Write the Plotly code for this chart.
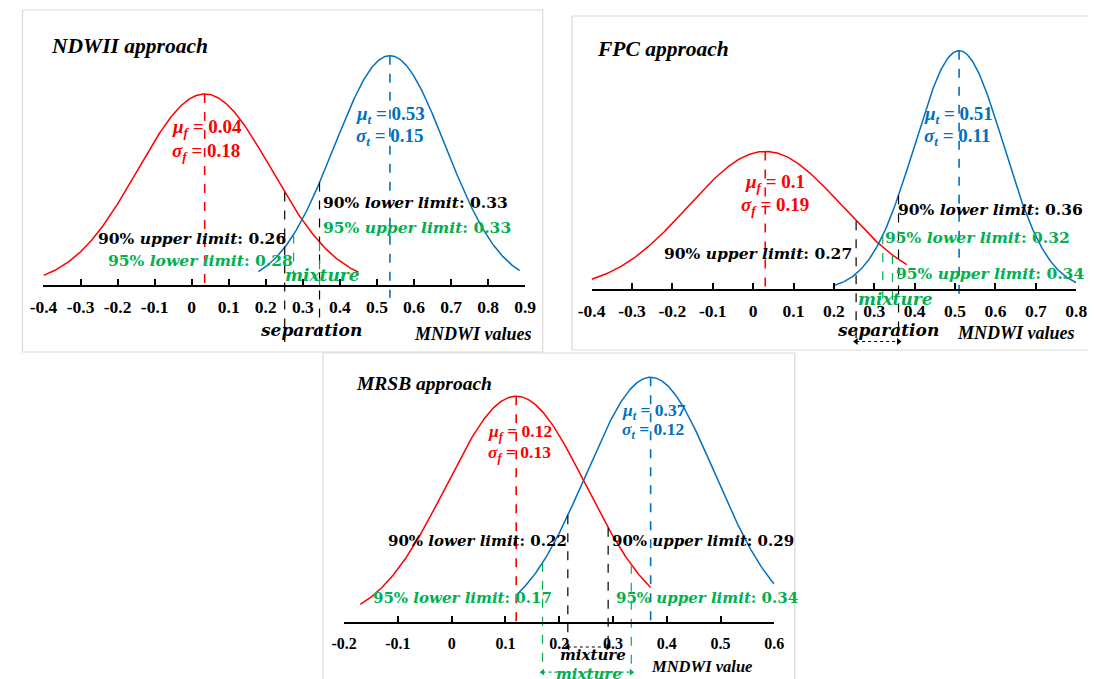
import numpy as np
import plotly.graph_objects as go

# page body has an 8px margin: figure is placed at (8, 8)
OFF = 8
W, H = 1096 - OFF, 679 - OFF

# ---------------- data ----------------
titles = ["NDWII approach", "FPC approach", "MRSB approach"]
axis_titles = ["MNDWI values", "MNDWI values", "MNDWI value"]
x_ranges = [(-0.4, 0.9), (-0.4, 0.8), (-0.2, 0.6)]
tick_vals = [
    [-0.4, -0.3, -0.2, -0.1, 0, 0.1, 0.2, 0.3, 0.4, 0.5, 0.6, 0.7, 0.8, 0.9],
    [-0.4, -0.3, -0.2, -0.1, 0, 0.1, 0.2, 0.3, 0.4, 0.5, 0.6, 0.7, 0.8],
    [-0.2, -0.1, 0, 0.1, 0.2, 0.3, 0.4, 0.5, 0.6],
]
tick_text = [
    ["-0.4", "-0.3", "-0.2", "-0.1", "0", "0.1", "0.2", "0.3", "0.4", "0.5", "0.6", "0.7", "0.8", "0.9"],
    ["-0.4", "-0.3", "-0.2", "-0.1", "0", "0.1", "0.2", "0.3", "0.4", "0.5", "0.6", "0.7", "0.8"],
    ["-0.2", "-0.1", "0", "0.1", "0.2", "0.3", "0.4", "0.5", "0.6"],
]

# distributions as drawn (red = f, blue = t)
red_mean = [0.035, 0.03, 0.12]
red_sd = [0.18, 0.19, 0.13]
blue_mean = [0.535, 0.51, 0.37]
blue_sd = [0.15, 0.11, 0.12]
red_from = [-0.4, -0.4, -0.17]
red_to = [0.45, 0.38, 0.37]
blue_from = [0.18, 0.2, 0.12]
blue_to = [0.885, 0.8, 0.6]

mu_f_txt = ["0.04", "0.1", "0.12"]
sigma_f_txt = ["0.18", "0.19", "0.13"]
mu_t_txt = ["0.53", "0.51", "0.37"]
sigma_t_txt = ["0.15", "0.11", "0.12"]

# limit lines as drawn
black_lines = [[0.251, 0.345], [0.255, 0.36], [0.216, 0.291]]
black_on = [["red", "blue"], ["red", "blue"], ["blue", "red"]]
green_lines = [[0.275, 0.345], [0.321, 0.345], [0.169, 0.334]]
green_on = [["blue", "red"], ["blue", "red"], ["blue", "red"]]

limit_text = [
    [("90%", "upper limit", "0.26", "black"), ("95%", "lower limit", "0.28", "green"),
     ("90%", "lower limit", "0.33", "black"), ("95%", "upper limit", "0.33", "green")],
    [("90%", "upper limit", "0.27", "black"), ("90%", "lower limit", "0.36", "black"),
     ("95%", "lower limit", "0.32", "green"), ("95%", "upper limit", "0.34", "green")],
    [("90%", "lower limit", "0.22", "black"), ("90%", "upper limit", "0.29", "black"),
     ("95%", "lower limit", "0.17", "green"), ("95%", "upper limit", "0.34", "green")],
]

# ---------------- style / geometry ----------------
RED = "#FF0000"
BLUE = "#0070C0"
GREEN = "#00B050"
COL = {"black": "black", "green": GREEN, "red": RED, "blue": BLUE}

geom = [
    dict(x0=30, x1=523, axis_y=285.7, scale=86.5, top=10, bottom=352),
    dict(x0=591, x1=1087, axis_y=290, scale=66, top=16, bottom=350),
    dict(x0=337.7, x1=778, axis_y=623.3, scale=74, top=353, bottom=679),
]
black_bottom = [-0.65, -0.8, -0.33]
green_bottom = [0.0, -0.23, -0.68]
blue_mean_bottom = [-0.14, -0.1, 0.0]
tick_size = [17.5, 17.5, 16]

SERIF = "Liberation Serif"
MATH = "DejaVu Serif"


def px(x):
    return (x - OFF) / W


def py(y):
    return 1 - (y - OFF) / H


def pdf(x, m, s):
    return np.exp(-0.5 * ((x - m) / s) ** 2) / (s * np.sqrt(2 * np.pi))


fig = go.Figure()
layout = dict(width=W, height=H, margin=dict(l=0, r=0, t=0, b=0),
              paper_bgcolor="white", plot_bgcolor="rgba(0,0,0,0)",
              showlegend=False)
annotations = []
shapes = []


def ann(x, y, text, color="black", size=15, family=MATH, xanchor="left"):
    annotations.append(dict(x=px(x), y=py(y), xref="paper", yref="paper",
                            text=text, showarrow=False, xanchor=xanchor,
                            yanchor="middle", font=dict(family=family, size=size, color=color)))


for i in range(3):
    g = geom[i]
    sfx = "" if i == 0 else str(i + 1)
    xa, ya = "x" + sfx, "y" + sfx
    bot = min(g["bottom"], H + OFF)
    top = max(g["top"], OFF)
    layout["xaxis" + sfx] = dict(
        domain=[px(g["x0"]), px(g["x1"])], range=list(x_ranges[i]),
        anchor="free", position=py(g["axis_y"]),
        showline=True, linecolor="black", linewidth=2,
        ticks="inside", ticklen=6, tickwidth=1.5, tickcolor="black",
        tickvals=tick_vals[i], ticktext=tick_text[i],
        tickfont=dict(family=SERIF, size=tick_size[i], color="black", weight="bold"),
        ticklabelstandoff=5, showgrid=False, zeroline=False, fixedrange=True)
    layout["yaxis" + sfx] = dict(
        domain=[py(bot), py(top)],
        range=[-(bot - g["axis_y"]) / g["scale"], (g["axis_y"] - top) / g["scale"]],
        visible=False, anchor=xa, fixedrange=True)

    params = {"red": (red_mean[i], red_sd[i]), "blue": (blue_mean[i], blue_sd[i])}
    # curves
    xr = np.linspace(red_from[i], red_to[i], 300)
    fig.add_trace(go.Scatter(x=xr, y=pdf(xr, *params["red"]), mode="lines",
                             line=dict(color=RED, width=1.5), xaxis=xa, yaxis=ya))
    xb = np.linspace(blue_from[i], blue_to[i], 300)
    fig.add_trace(go.Scatter(x=xb, y=pdf(xb, *params["blue"]), mode="lines",
                             line=dict(color=BLUE, width=1.5), xaxis=xa, yaxis=ya))
    # mean lines
    rm, rs = params["red"]
    fig.add_trace(go.Scatter(x=[rm, rm], y=[pdf(rm, rm, rs), 0], mode="lines",
                             line=dict(color=RED, width=1.6, dash="dash"), xaxis=xa, yaxis=ya))
    bm, bs = params["blue"]
    fig.add_trace(go.Scatter(x=[bm, bm], y=[pdf(bm, bm, bs), blue_mean_bottom[i]], mode="lines",
                             line=dict(color=BLUE, width=1.6, dash="dash"), xaxis=xa, yaxis=ya))
    # limit lines
    for xv, on in zip(black_lines[i], black_on[i]):
        fig.add_trace(go.Scatter(x=[xv, xv], y=[pdf(xv, *params[on]), black_bottom[i]], mode="lines",
                                 line=dict(color="black", width=1.2, dash="dash"), xaxis=xa, yaxis=ya))
    for xv, on in zip(green_lines[i], green_on[i]):
        fig.add_trace(go.Scatter(x=[xv, xv], y=[pdf(xv, *params[on]), green_bottom[i]], mode="lines",
                                 line=dict(color=GREEN, width=1.2, dash="dash"), xaxis=xa, yaxis=ya))
    # double arrows
    arrows = []
    if i == 1:
        arrows.append((black_lines[i], black_bottom[i] + 0.02, "black"))
    if i == 2:
        arrows.append((black_lines[i], black_bottom[i] + 0.01, "black"))
        arrows.append((green_lines[i], green_bottom[i] + 0.02, GREEN))
    for xs, yv, c in arrows:
        fig.add_trace(go.Scatter(x=xs, y=[yv, yv], mode="lines+markers",
                                 line=dict(color=c, width=1.2, dash="dot"),
                                 marker=dict(symbol=["triangle-left", "triangle-right"], size=6, color=c),
                                 xaxis=xa, yaxis=ya))

    # panel box
    shapes.append(dict(type="rect", xref="paper", yref="paper",
                       x0=px([8.5, 571, 316][i]), x1=px([541, 1100, 799][i]),
                       y0=py([352, 350, 690][i]), y1=py([10, 16, 353][i]),
                       line=dict(color="#d9d9d9", width=1.2), layer="below"))


def limit(lbl, x, y, size, xanchor):
    pct, words, val, col = lbl
    ann(x, y, f"<b>{pct} <i>{words}</i>: {val}</b>", COL[col], size, MATH, xanchor)


def mu_sigma(x, y, sym, sub, val, col, size):
    ann(x, y, f"<b><i>{sym}<sub>{sub}</sub></i> = {val}</b>", col, size, SERIF, "left")


# ---------- panel 1 text ----------
ann(36, 46, "<b><i>" + titles[0] + "</i></b>", "black", 21.5, SERIF)
mu_sigma(159, 128, "μ", "f", mu_f_txt[0], RED, 19)
mu_sigma(159, 152, "σ", "f", sigma_f_txt[0], RED, 19)
mu_sigma(348, 115, "μ", "t", mu_t_txt[0], BLUE, 19)
mu_sigma(348, 137, "σ", "t", sigma_t_txt[0], BLUE, 19)
limit(limit_text[0][0], 280, 239, 15.5, "right")
limit(limit_text[0][1], 287, 260, 15.5, "right")
limit(limit_text[0][2], 314, 202, 15.5, "left")
limit(limit_text[0][3], 314, 227, 15.5, "left")
ann(275, 275, "<b><i>mixture</i></b>", GREEN, 17, MATH)
ann(250, 330, "<b><i>separation</i></b>", "black", 17, MATH)
ann(532, 334, "<b><i>" + axis_titles[0] + "</i></b>", "black", 18, SERIF, "right")

# ---------- panel 2 text ----------
ann(594, 49, "<b><i>" + titles[1] + "</i></b>", "black", 21.5, SERIF)
mu_sigma(746, 183, "μ", "f", mu_f_txt[1], RED, 19)
mu_sigma(742, 206, "σ", "f", sigma_f_txt[1], RED, 19)
mu_sigma(929, 115, "μ", "t", mu_t_txt[1], BLUE, 19)
mu_sigma(929, 137, "σ", "t", sigma_t_txt[1], BLUE, 19)
limit(limit_text[1][0], 860, 253, 15.5, "right")
limit(limit_text[1][1], 903, 209, 15.5, "left")
limit(limit_text[1][2], 889, 237, 15.5, "left")
limit(limit_text[1][3], 901, 274, 15.5, "left")
ann(862, 299, "<b><i>mixture</i></b>", GREEN, 17, MATH)
ann(840, 330, "<b><i>separation</i></b>", "black", 17, MATH)
ann(1088, 333, "<b><i>" + axis_titles[1] + "</i></b>", "black", 18, SERIF, "right")

# ---------- panel 3 text ----------
ann(348, 383, "<b><i>" + titles[2] + "</i></b>", "black", 19.5, SERIF)
mu_sigma(483, 432, "μ", "f", mu_f_txt[2], RED, 17.5)
mu_sigma(483, 453, "σ", "f", sigma_f_txt[2], RED, 17.5)
mu_sigma(620, 411, "μ", "t", mu_t_txt[2], BLUE, 17.5)
mu_sigma(620, 430, "σ", "t", sigma_t_txt[2], BLUE, 17.5)
limit(limit_text[2][0], 568, 541, 15, "right")
limit(limit_text[2][1], 610, 541, 15, "left")
limit(limit_text[2][2], 552, 598, 15, "right")
limit(limit_text[2][3], 614, 598, 15, "left")
ann(557, 655, "<b><i>mixture</i></b>", "black", 15, MATH)
ann(552, 674, "<b><i>mixture</i></b>", GREEN, 15, MATH)
ann(757, 666, "<b><i>" + axis_titles[2] + "</i></b>", "black", 16.5, SERIF, "right")

layout["annotations"] = annotations
layout["shapes"] = shapes
fig.update_layout(**layout)
fig.write_html("out.html")
